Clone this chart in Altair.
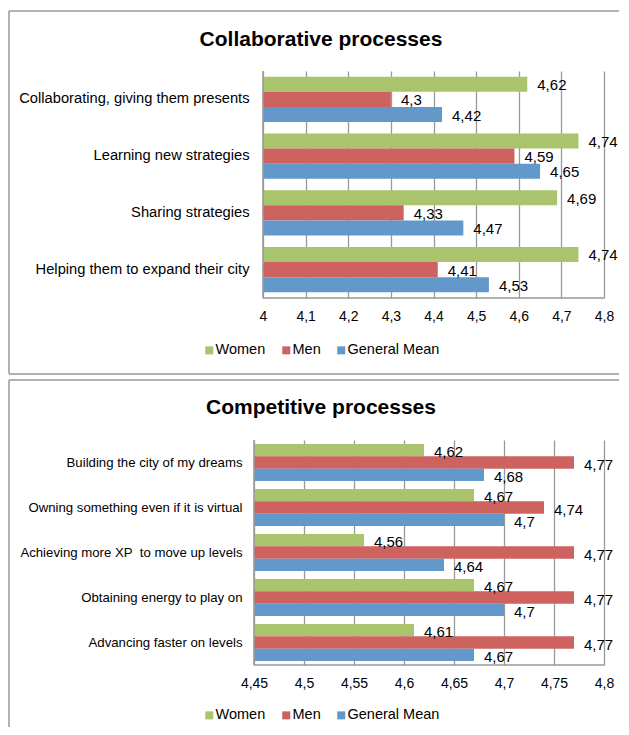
import altair as alt
import pandas as pd

series = ["Women", "Men", "General Mean"]
colors = ["#A9C46C", "#CD625F", "#6398CA"]

collab_title = "Collaborative processes"
collab_items = [
    "Collaborating, giving them presents",
    "Learning new strategies",
    "Sharing strategies",
    "Helping them to expand their city",
]
collab_women = [4.62, 4.74, 4.69, 4.74]
collab_men = [4.3, 4.59, 4.33, 4.41]
collab_mean = [4.42, 4.65, 4.47, 4.53]
collab_ticks = [4.0, 4.1, 4.2, 4.3, 4.4, 4.5, 4.6, 4.7, 4.8]

comp_title = "Competitive processes"
comp_items = [
    "Building the city of my dreams\u00a0\u00a0",
    "Owning something even if it is virtual",
    "Achieving more XP\u00a0 to move up levels",
    "Obtaining energy to play on",
    "Advancing faster on levels",
]
comp_women = [4.62, 4.67, 4.56, 4.67, 4.61]
comp_men = [4.77, 4.74, 4.77, 4.77, 4.77]
comp_mean = [4.68, 4.7, 4.64, 4.7, 4.67]
comp_ticks = [4.45, 4.5, 4.55, 4.6, 4.65, 4.7, 4.75, 4.8]

GRID = "#999999"
W = 350  # common plot width (both panels end at the same right edge)


def make_df(items, women, men, mean, base):
    rows = []
    for i, item in enumerate(items):
        for s, vals in zip(series, [women, men, mean]):
            v = vals[i]
            rows.append({
                "item": item,
                "series": s,
                "value": v,
                "base": base,
                "label": f"{v:g}".replace(".", ","),
            })
    return pd.DataFrame(rows)


def panel(items, women, men, mean, ticks, title, x_start, height,
          pad_inner, pad_outer, ylab_size, ylab_pad, val_dy,
          frame, draw_bottom, title_pos, legend_pos):
    df = make_df(items, women, men, mean, ticks[0])
    y = alt.Y("item:N", sort=items,
              scale=alt.Scale(paddingInner=pad_inner, paddingOuter=pad_outer),
              axis=alt.Axis(title=None, ticks=False, labelFontSize=ylab_size,
                            labelPadding=ylab_pad, labelColor="black",
                            labelLimit=400, domain=False, grid=False))
    yo = alt.YOffset("series:N", sort=series, scale=alt.Scale(domain=series))
    x = alt.X("value:Q",
              scale=alt.Scale(domain=[ticks[0], ticks[-1]], zero=False, nice=False,
                              range=[x_start, W]),
              axis=alt.Axis(title=None, values=ticks, grid=True, gridColor=GRID,
                            gridWidth=1.3, ticks=False, labelPadding=11,
                            labelFontSize=14, labelColor="black", labelFlush=False,
                            domain=False, labelOverlap=False,
                            labelExpr="replace(format(datum.value, '~g'), '.', ',')"))
    bars = alt.Chart(df).mark_bar().encode(
        x=x, x2=alt.X2("base:Q"), y=y, yOffset=yo,
        color=alt.Color("series:N",
                        scale=alt.Scale(domain=series, range=colors),
                        legend=alt.Legend(title=None, orient="none",
                                          direction="horizontal",
                                          legendX=legend_pos[0], legendY=legend_pos[1],
                                          symbolType="square", symbolSize=64,
                                          symbolStrokeWidth=0, labelFontSize=14.5,
                                          labelColor="black",
                                          labelOffset={"expr": "-1"},
                                          columnPadding=13, padding=0)),
    )
    texts = alt.Chart(df).mark_text(align="left", baseline="middle", dx=10,
                                    dy=val_dy, fontSize=15,
                                    color="black").encode(
        x="value:Q", y=alt.Y("item:N", sort=items),
        yOffset=alt.YOffset("series:N", sort=series),
        text="label:N")
    # left axis line and bottom axis line, drawn along the value scale
    axis_df = pd.DataFrame({"lo": [ticks[0]], "hi": [ticks[-1]]})
    bottom_line = alt.Chart(axis_df).mark_rule(color=GRID, strokeWidth=1.5).encode(
        x="lo:Q", x2="hi:Q", y=alt.value(height))
    left_line = alt.Chart(axis_df).mark_rule(color=GRID, strokeWidth=1.5).encode(
        x="lo:Q", y=alt.value(0), y2=alt.value(height))
    one = pd.DataFrame({"t": [title]})
    fl, ft, fr, fb = frame
    f_top = alt.Chart(one).mark_rule(color=GRID, strokeWidth=1.5).encode(
        x=alt.value(fl), x2=alt.value(fr), y=alt.value(ft))
    f_left = alt.Chart(one).mark_rule(color=GRID, strokeWidth=1.5).encode(
        x=alt.value(fl), y=alt.value(ft), y2=alt.value(fb))
    layers = [bars, texts, bottom_line, left_line, f_top, f_left]
    if draw_bottom:
        f_bot = alt.Chart(one).mark_rule(color=GRID, strokeWidth=1.5).encode(
            x=alt.value(fl), x2=alt.value(fr), y=alt.value(fb))
        layers.append(f_bot)
    ttl = alt.Chart(one).mark_text(fontSize=21, fontWeight="bold", align="center",
                                   baseline="middle", color="black").encode(
        x=alt.value(title_pos[0]), y=alt.value(title_pos[1]), text="t:N")
    layers.append(ttl)
    return alt.layer(*layers).properties(width=W, height=height).resolve_scale(
        color="independent")


top = panel(collab_items, collab_women, collab_men, collab_mean, collab_ticks,
            collab_title, 9, 227, 0.2, 0.1, 14.7, 5, 1,
            frame=(-245, -60, 365, 303), draw_bottom=True,
            title_pos=(67, -31), legend_pos=(-52, 272))

bottom = panel(comp_items, comp_women, comp_men, comp_mean, comp_ticks,
               comp_title, 0, 225, 0.18, 0.09, 13.2, 12, 2,
               frame=(-245, -60, 365, 287), draw_bottom=False,
               title_pos=(67, -32), legend_pos=(-52, 268))

chart = alt.concat(top, bottom, columns=1, spacing=4).properties(
    padding={"left": 0, "top": 2, "right": 0, "bottom": 0}
).resolve_scale(
    x="independent", y="independent", yOffset="independent", color="independent"
).resolve_legend(color="independent").configure(
    font="Liberation Sans").configure_view(stroke=None)

chart.save("out.html", embed_options={"renderer": "svg", "actions": False})
